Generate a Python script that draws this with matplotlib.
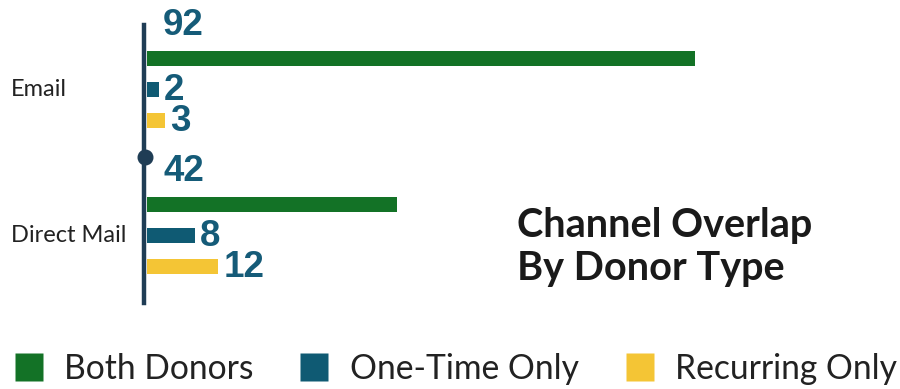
import matplotlib
matplotlib.use("Agg")
import matplotlib.pyplot as plt
from matplotlib.lines import Line2D
from matplotlib.transforms import blended_transform_factory, offset_copy

categories = ["Email", "Direct Mail"]
series_names = ["Both Donors", "One-Time Only", "Recurring Only"]
both_donors = [92, 42]
one_time_only = [2, 8]
recurring_only = [3, 12]
series_values = [both_donors, one_time_only, recurring_only]
colors = ["#137226", "#0f5a73", "#f4c535"]
label_color = "#155b78"
axis_color = "#1f3d55"
title_lines = ["Channel Overlap", "By Donor Type"]

W, H = 900, 389
fig = plt.figure(figsize=(W / 100, H / 100), dpi=100)
fig.patch.set_facecolor("white")

# axes geometry (pixels)
x0_px, xmax_px = 147, 695
top_px, bot_px = 25, 303
ax = fig.add_axes([x0_px / W, 1 - bot_px / H, (xmax_px - x0_px) / W, (bot_px - top_px) / H])
ax.set_facecolor("none")

cat_px = [89.5, 235.5]
unit = cat_px[1] - cat_px[0]
ax.set_ylim((bot_px - cat_px[0]) / unit, (top_px - cat_px[0]) / unit)
ax.set_xlim(0, max(both_donors))

offsets = [-31.0 / unit, 0.0, 30.5 / unit]
bar_h = 15.0 / unit

for si, (vals, col, off) in enumerate(zip(series_values, colors, offsets)):
    ys = [i + off for i in range(len(categories))]
    ax.barh(ys, vals, height=bar_h, color=col, left=0, zorder=2, clip_on=False)
    for y, v in zip(ys, vals):
        if si == 0:
            ax.annotate(str(v), xy=(0, y), xytext=(16, 33), textcoords="offset pixels",
                        ha="left", va="center", fontsize=26.5, fontweight="bold",
                        family="Liberation Sans", color=label_color, annotation_clip=False)
        else:
            ax.annotate(str(v), xy=(v, y), xytext=(5, -1), textcoords="offset pixels",
                        ha="left", va="center", fontsize=26.5, fontweight="bold",
                        family="Liberation Sans", color=label_color, annotation_clip=False)

# spines / ticks
for s in ["top", "right", "bottom"]:
    ax.spines[s].set_visible(False)
ax.spines["left"].set_color(axis_color)
ax.spines["left"].set_linewidth(3.2)
ax.spines["left"].set_position(("outward", 2))
ax.set_xticks([])
ax.set_yticks([])

# dot on the axis between the categories
ax.plot([0], [(157 - cat_px[0]) / unit], "o", color=axis_color, ms=10.5,
        clip_on=False, zorder=5, transform=offset_copy(ax.transData, fig=fig, x=-2, units="dots"))

# category labels
trans = blended_transform_factory(fig.transFigure, ax.transData)
for i, c in enumerate(categories):
    ax.text(11 / W, i + 6.5 / unit, c, transform=trans, ha="left", va="baseline",
            fontsize=17, family="Lato", color="#222222")

# title (two lines, baselines placed explicitly)
for line, base_px in zip(title_lines, [237, 280]):
    fig.text(517 / W, 1 - base_px / H, line, ha="left", va="baseline",
             fontsize=28.5, fontweight="bold", family="Lato", color="#1a1a1a")

# legend
handles = [Line2D([], [], marker="s", linestyle="none", markersize=20.2,
                  markerfacecolor=c, markeredgecolor="none") for c in colors]
leg = fig.legend(handles, series_names, loc="center left",
                 bbox_to_anchor=(12 / W, 1 - 369 / H), ncol=3, frameon=False,
                 borderaxespad=0, borderpad=0, handlelength=1.0, handletextpad=0.56,
                 columnspacing=1.3, prop={"family": "Lato", "size": 24.2})
for t in leg.get_texts():
    t.set_color("#222222")

fig.savefig("out.png", dpi=100, facecolor="white")
